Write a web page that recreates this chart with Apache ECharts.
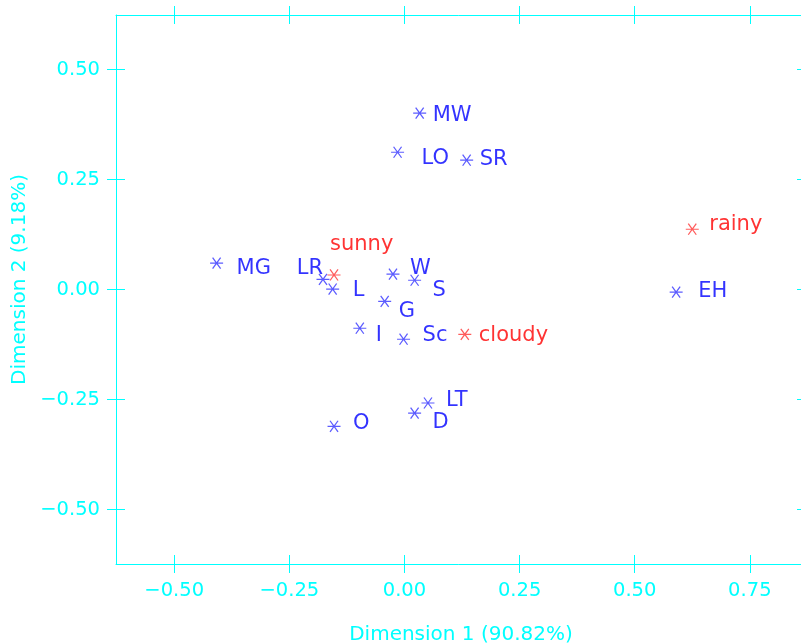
<!DOCTYPE html>
<html>
<head>
<meta charset="utf-8">
<script src="https://cdn.jsdelivr.net/npm/echarts@6/dist/echarts.min.js"></script>
<style>
  html, body { margin: 0; padding: 0; background: #ffffff; }
  #chart { width: 801px; height: 644px; }
</style>
</head>
<body>
<div id="chart"></div>
<script>
// Row profiles (blue) of the correspondence analysis
const rowNames = ['MW', 'LO', 'SR', 'MG', 'LR', 'L', 'W', 'S', 'G', 'I', 'Sc', 'LT', 'D', 'O', 'EH'];
const rowDim1  = [0.033, -0.015, 0.135, -0.408, -0.177, -0.156, -0.025, 0.022, -0.043, -0.097, -0.002, 0.051, 0.022, -0.153, 0.590];
const rowDim2  = [0.401, 0.312, 0.294, 0.060, 0.023, 0.001, 0.035, 0.021, -0.027, -0.088, -0.113, -0.258, -0.281, -0.311, -0.006];

// Column profiles (red)
const colNames = ['sunny', 'cloudy', 'rainy'];
const colDim1  = [-0.153, 0.131, 0.625];
const colDim2  = [0.033, -0.102, 0.137];

// Axis ticks and titles
const xTicks = [-0.5, -0.25, 0, 0.25, 0.5, 0.75];
const yTicks = [-0.5, -0.25, 0, 0.25, 0.5];
const xTitle = 'Dimension 1 (90.82%)';
const yTitle = 'Dimension 2 (9.18%)';
const xRange = [-0.6265, 0.872];
const yRange = [-0.624, 0.624];

// Label placement in pixels: [dx, dy, align] relative to the marker centre
const labelPlacement = {
  MW: [13, 2, 'left'], LO: [24, 6, 'left'], SR: [13, -1, 'left'],
  MG: [20, 5.5, 'left'], LR: [0, -10.5, 'right'], L: [20, 1.5, 'left'],
  W: [17, -5.5, 'left'], S: [18, 10.5, 'left'], G: [14, 10.5, 'left'],
  I: [16, 7, 'left'], Sc: [19, -4, 'left'], LT: [18, -2.5, 'left'],
  D: [18, 9.5, 'left'], O: [19, -3, 'left'], EH: [22, -1, 'left'],
  sunny: [-4, -30.5, 'left'], cloudy: [14, 1, 'left'], rainy: [17, -5, 'left']
};

const CYAN = '#00FFFF';
const FONT = 'DejaVu Sans';
const TICK_FONT = 19.5;
const ASTERISK = 'path://M0,6L13,6M2.5,0L10.5,12M2.5,12L10.5,0';

function fmtTick(v) {
  return (v < 0 ? '\u2212' : '') + Math.abs(v).toFixed(2);
}

function buildPoints(names, d1, d2) {
  return names.map((n, i) => {
    const p = labelPlacement[n];
    return {
      name: n,
      value: [d1[i], d2[i]],
      label: { offset: [p[0], p[1]], align: p[2] }
    };
  });
}

function pointSeries(names, d1, d2, color, strokeColor) {
  return {
    type: 'scatter',
    xAxisIndex: 0,
    yAxisIndex: 0,
    symbol: ASTERISK,
    symbolSize: [13, 12],
    symbolKeepAspect: true,
    itemStyle: { color: 'rgba(0,0,0,0)', borderColor: strokeColor, borderWidth: 1.2 },
    label: {
      show: true,
      position: 'inside',
      verticalAlign: 'middle',
      formatter: '{b}',
      color: color,
      fontFamily: FONT,
      fontSize: 21
    },
    emphasis: { disabled: true },
    silent: true,
    data: buildPoints(names, d1, d2)
  };
}

function xAxisDef(position, inside, withLabels, withLine) {
  return {
    type: 'value',
    position: position,
    min: xRange[0],
    max: xRange[1],
    gridIndex: 0,
    axisLine: { show: withLine, onZero: false, lineStyle: { color: CYAN, width: 1 } },
    axisTick: { show: true, inside: inside, length: 9, customValues: xTicks, lineStyle: { color: CYAN, width: 1 } },
    axisLabel: {
      show: withLabels,
      customValues: xTicks,
      formatter: fmtTick,
      color: CYAN,
      fontFamily: FONT,
      fontSize: TICK_FONT,
      margin: 17
    },
    splitLine: { show: false },
    name: withLabels ? xTitle : '',
    nameLocation: 'middle',
    nameGap: 61,
    nameTextStyle: { color: CYAN, fontFamily: FONT, fontSize: 20 }
  };
}

function yAxisDef(position, inside, withLabels, withLine) {
  return {
    type: 'value',
    position: position,
    min: yRange[0],
    max: yRange[1],
    gridIndex: 0,
    axisLine: { show: withLine, onZero: false, lineStyle: { color: CYAN, width: 1 } },
    axisTick: { show: true, inside: inside, length: 9, customValues: yTicks, lineStyle: { color: CYAN, width: 1 } },
    axisLabel: {
      show: withLabels,
      customValues: yTicks,
      formatter: fmtTick,
      color: CYAN,
      fontFamily: FONT,
      fontSize: TICK_FONT,
      margin: 16
    },
    splitLine: { show: false },
    name: withLabels ? yTitle : '',
    nameLocation: 'middle',
    nameGap: 82,
    nameTextStyle: { color: CYAN, fontFamily: FONT, fontSize: 20, padding: [0, 0, 0, 20] }
  };
}

const chart = echarts.init(document.getElementById('chart'), null, { renderer: 'canvas' });

chart.setOption({
  backgroundColor: '#ffffff',
  animation: false,
  // the frame's right edge runs just past the canvas, so only the tips of its ticks show
  grid: { left: 116, top: 15, width: 690, height: 549, outerBoundsMode: 'none' },
  xAxis: [
    xAxisDef('bottom', false, true, true),
    xAxisDef('bottom', true, false, false),
    xAxisDef('top', false, false, true),
    xAxisDef('top', true, false, false)
  ],
  yAxis: [
    yAxisDef('left', false, true, true),
    yAxisDef('left', true, false, false),
    yAxisDef('right', false, false, true),
    yAxisDef('right', true, false, false)
  ],
  series: [
    pointSeries(rowNames, rowDim1, rowDim2, '#0000FF', '#3333FF'),
    pointSeries(colNames, colDim1, colDim2, '#FF0000', '#FF3333')
  ]
});
</script>
</body>
</html>
